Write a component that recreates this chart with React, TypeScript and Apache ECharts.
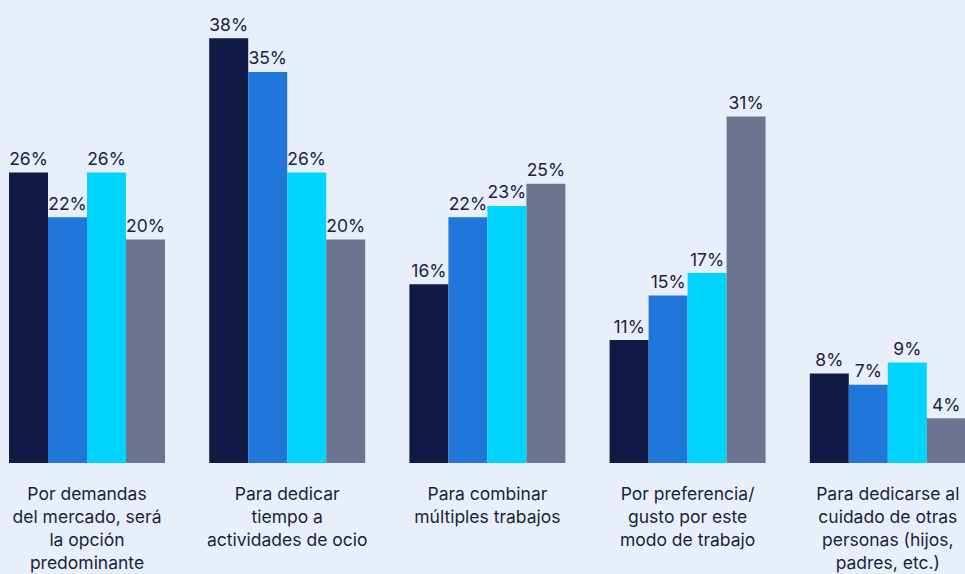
import React, { useEffect, useRef } from "react";
import * as echarts from "echarts";

const categories = [
  "Por demandas\ndel mercado, será\nla opción\npredominante",
  "Para dedicar\ntiempo a\nactividades de ocio",
  "Para combinar\nmúltiples trabajos",
  "Por preferencia/\ngusto por este\nmodo de trabajo",
  "Para dedicarse al\ncuidado de otras\npersonas (hijos,\npadres, etc.)",
];

const seriesA = [26, 38, 16, 11, 8];
const seriesB = [22, 35, 22, 15, 7];
const seriesC = [26, 26, 23, 17, 9];
const seriesD = [20, 20, 25, 31, 4];

const colors = ["#111a44", "#2176d9", "#00d4ff", "#6d7490"];
const FONT = "Inter, 'Noto Sans', sans-serif";

export default function App() {
  const ref = useRef<HTMLDivElement>(null);
  useEffect(() => {
    if (!ref.current) return;
    const chart = echarts.init(ref.current, null, { renderer: "svg" });
    const mk = (name: string, data: number[], color: string) => ({
      name,
      type: "bar",
      data,
      barWidth: 39,
      barGap: "0%",
      itemStyle: { color },
      label: {
        show: true,
        position: "top",
        distance: 5,
        formatter: "{c}%",
        color: "#1c2340",
        fontSize: 17.5,
        fontFamily: FONT,
      },
    });
    chart.setOption({
      animation: false,
      backgroundColor: "transparent",
      grid: { left: 6.9, width: 1001, top: 16, height: 448 },
      xAxis: {
        type: "category",
        data: categories,
        axisLine: { show: false },
        axisTick: { show: false },
        axisLabel: {
          interval: 0,
          margin: 19,
          fontSize: 17.5,
          lineHeight: 23,
          color: "#1b1f3b",
          fontFamily: FONT,
          align: "center",
          verticalAlign: "top",
        },
      },
      yAxis: {
        type: "value",
        min: 0,
        max: 40,
        show: false,
        splitLine: { show: false },
      },
      series: [
        mk("A", seriesA, colors[0]),
        mk("B", seriesB, colors[1]),
        mk("C", seriesC, colors[2]),
        mk("D", seriesD, colors[3]),
      ],
    });
    return () => chart.dispose();
  }, []);
  return (
    <div
      style={{
        position: "fixed",
        left: 0,
        top: 0,
        width: 965,
        height: 574,
        overflow: "hidden",
        background: "#e8effb",
      }}
    >
      <div
        ref={ref}
        style={{ position: "absolute", left: -20, top: 0, width: 1040, height: 574 }}
      />
    </div>
  );
}
